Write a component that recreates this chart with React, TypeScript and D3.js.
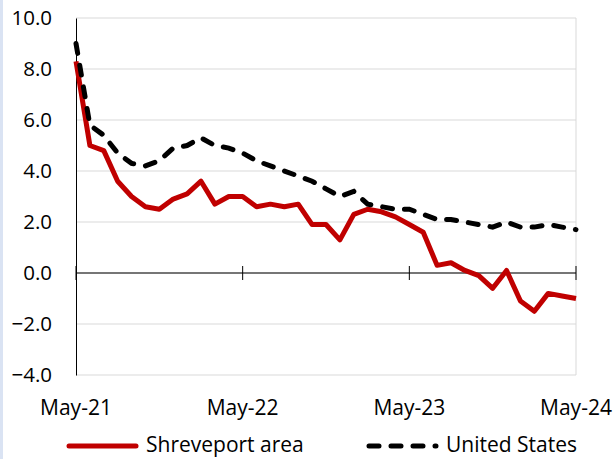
import React, { useEffect, useRef } from "react";
import * as d3 from "d3";

// monthly categories, May-21 .. May-24
const months = d3
  .timeMonth.range(new Date(2021, 4, 1), new Date(2024, 5, 1))
  .map((d) => d3.timeFormat("%b-%y")(d));

const shreveport = [
  8.3, 5.0, 4.8, 3.6, 3.0, 2.6, 2.5, 2.9, 3.1, 3.6, 2.7, 3.0, 3.0, 2.6, 2.7, 2.6,
  2.7, 1.9, 1.9, 1.3, 2.3, 2.5, 2.4, 2.2, 1.9, 1.6, 0.3, 0.4, 0.1, -0.1, -0.6,
  0.1, -1.1, -1.5, -0.8, -0.9, -1.0,
];
const unitedStates = [
  9.0, 5.8, 5.4, 4.7, 4.3, 4.2, 4.4, 4.9, 5.0, 5.3, 5.0, 4.9, 4.7, 4.4, 4.2, 4.0,
  3.8, 3.6, 3.3, 3.0, 3.2, 2.7, 2.6, 2.5, 2.5, 2.3, 2.1, 2.1, 2.0, 1.9, 1.8,
  2.0, 1.8, 1.8, 1.9, 1.8, 1.7,
];
const xTickLabels = ["May-21", "May-22", "May-23", "May-24"];
const yTicks = [-4, -2, 0, 2, 4, 6, 8, 10];

const font = "'Open Sans', sans-serif";

function App() {
  const svgRef = useRef<SVGSVGElement>(null);
  const width = 615;
  const height = 459;
  const margin = { top: 18, right: 39, bottom: 84, left: 76 };

  useEffect(() => {
    const svg = d3.select(svgRef.current);
    svg.selectAll("*").remove();

    svg.append("rect").attr("x", 0).attr("y", 0).attr("width", 3).attr("height", height).attr("fill", "#dae3f3");

    const x = d3.scalePoint().domain(months).range([margin.left, width - margin.right]);
    const y = d3.scaleLinear().domain([-4, 10]).range([height - margin.bottom, margin.top]);

    // gridlines
    svg
      .append("g")
      .selectAll("line")
      .data(yTicks)
      .join("line")
      .attr("x1", margin.left)
      .attr("x2", width - margin.right)
      .attr("y1", (d) => y(d))
      .attr("y2", (d) => y(d))
      .attr("stroke", "#d9d9d9")
      .attr("stroke-width", 1);
    // right border
    svg
      .append("line")
      .attr("x1", width - margin.right)
      .attr("x2", width - margin.right)
      .attr("y1", y(10))
      .attr("y2", y(-4))
      .attr("stroke", "#d9d9d9");

    // y axis
    const yAxis = d3
      .axisLeft(y)
      .tickValues(yTicks)
      .tickSize(0)
      .tickPadding(24)
      .tickFormat(d3.format(".1f"));
    const yg = svg.append("g").attr("transform", `translate(${margin.left},0)`).call(yAxis);
    yg.select(".domain").attr("stroke", "#000");
    yg.selectAll("text").attr("font-family", font).attr("font-size", 20.5).attr("fill", "#000");

    // zero axis with crossing ticks
    const tickMonths = months.filter((_, i) => i % 12 === 0);
    svg
      .append("line")
      .attr("x1", margin.left)
      .attr("x2", width - margin.right)
      .attr("y1", y(0))
      .attr("y2", y(0))
      .attr("stroke", "#000");
    svg
      .append("g")
      .selectAll("line")
      .data(tickMonths)
      .join("line")
      .attr("x1", (d) => x(d)!)
      .attr("x2", (d) => x(d)!)
      .attr("y1", y(0) - 7)
      .attr("y2", y(0) + 7)
      .attr("stroke", "#000");

    // category labels
    svg
      .append("g")
      .selectAll("text")
      .data(tickMonths)
      .join("text")
      .attr("x", (d) => x(d)!)
      .attr("y", 415)
      .attr("text-anchor", "middle")
      .attr("font-family", font)
      .attr("font-size", 21)
      .text((_, i) => xTickLabels[i]);

    // lines
    const line = d3
      .line<number>()
      .x((_, i) => x(months[i])!)
      .y((d) => y(d));

    svg
      .append("path")
      .datum(shreveport)
      .attr("fill", "none")
      .attr("stroke", "#c00000")
      .attr("stroke-width", 5)
      .attr("stroke-linejoin", "round")
      .attr("d", line);

    svg
      .append("path")
      .datum(unitedStates)
      .attr("fill", "none")
      .attr("stroke", "#000")
      .attr("stroke-width", 5)
      .attr("stroke-linecap", "round")
      .attr("stroke-dasharray", "10,12")
      .attr("d", line);

    // legend
    const ly = 446;
    const legend = [
      { label: "Shreveport area", x: 67, color: "#c00000", dash: null },
      { label: "United States", x: 367, color: "#000", dash: "10,12" },
    ];
    const lg = svg.append("g");
    legend.forEach((l) => {
      lg.append("line")
        .attr("x1", l.x + 2)
        .attr("x2", l.x + 69)
        .attr("y1", ly)
        .attr("y2", ly)
        .attr("stroke", l.color)
        .attr("stroke-width", 5)
        .attr("stroke-linecap", "round")
        .attr("stroke-dasharray", l.dash);
      lg.append("text")
        .attr("x", l.x + 79)
        .attr("y", 452)
        .attr("font-family", font)
        .attr("font-size", 21)
        .text(l.label);
    });
  }, []);

  return (
    <svg
      ref={svgRef}
      width={width}
      height={height}
      style={{ position: "absolute", left: 0, top: 0, background: "#fff" }}
    ></svg>
  );
}

export default App;
